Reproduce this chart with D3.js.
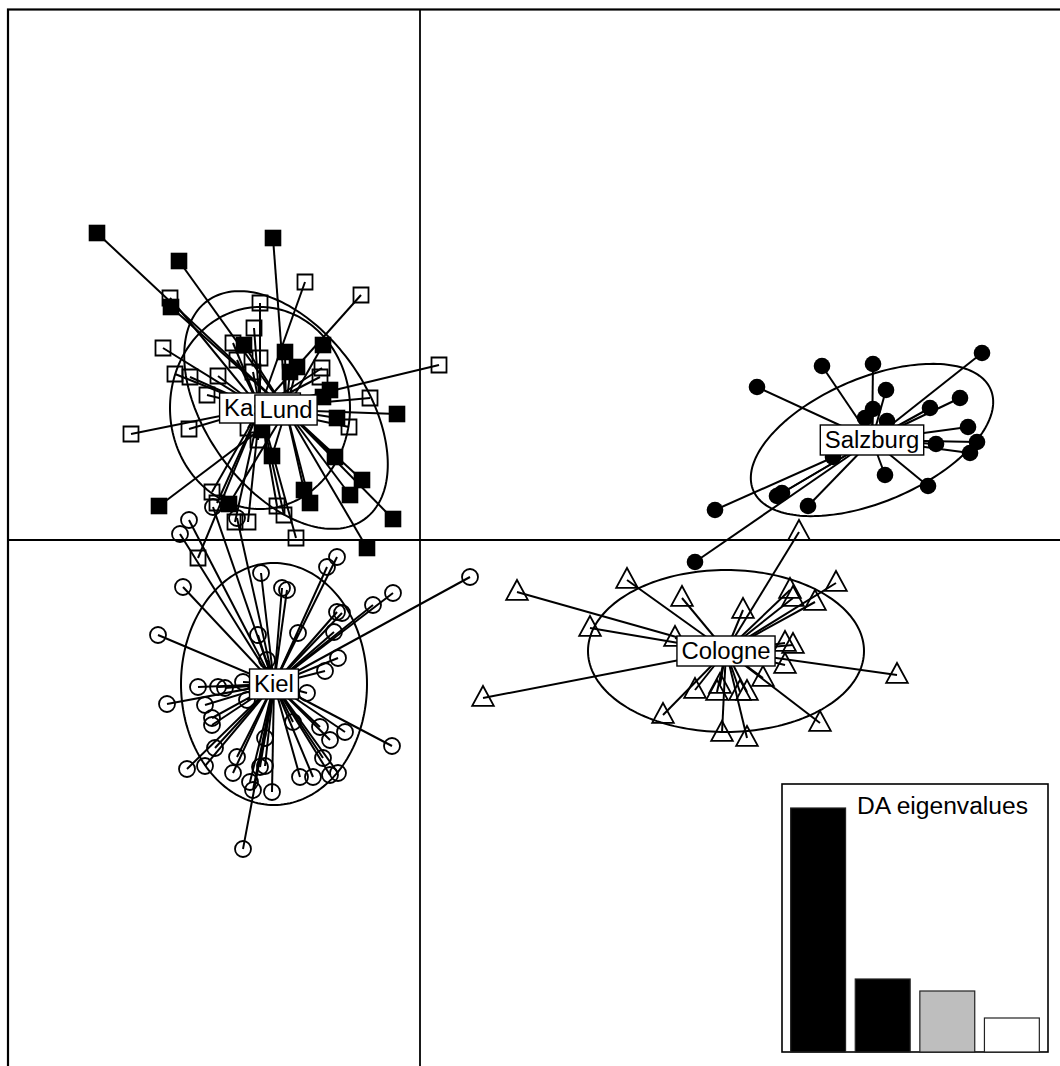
<!DOCTYPE html>
<html><head><meta charset="utf-8">
<script src="https://cdn.jsdelivr.net/npm/d3@7"></script>
<style>body{margin:0;background:#fff} svg{display:block}</style>
</head><body>
<svg id="c" width="1060" height="1066"></svg>
<script>
// ---- data (discriminant function scores, LD1 / LD2) ----
const groups = ["Kassel", "Lund", "Kiel", "Cologne", "Salzburg"];
const shapes = ["openSquare", "filledSquare", "openCircle", "openTriangle", "filledCircle"];

const kasselPts = [[-1.15,2.58],[-0.59,2.45],[-2.50,2.42],[-1.60,2.37],[-1.66,2.12],[-2.57,1.92],[-1.87,1.97],
  [-1.60,1.82],[-1.83,1.80],[-2.45,1.66],[-2.30,1.63],[-2.02,1.64],[-1.67,1.68],[-0.98,1.72],[-1.00,1.63],
  [-2.13,1.45],[-0.50,1.42],[0.19,1.75],[-2.89,1.06],[-2.31,1.11],[-0.71,1.13],[-1.72,1.12],[-1.62,1.00],
  [-2.08,0.48],[-2.03,0.37],[-1.85,0.18],[-1.72,0.18],[-1.43,0.34],[-1.36,0.25],[-1.24,0.02],[-2.22,-0.18]];
const lundPts = [[-3.23,3.07],[-1.47,3.02],[-2.41,2.79],[-2.49,2.33],[-1.76,1.95],[-1.35,1.88],[-0.97,1.95],
  [-1.23,1.73],[-1.30,1.68],[-0.90,1.50],[-0.97,1.43],[-0.23,1.26],[-0.83,1.22],[-1.58,1.10],[-1.48,0.84],
  [-0.85,0.83],[-0.58,0.60],[-1.16,0.50],[-1.10,0.37],[-0.70,0.45],[-2.61,0.34],[-1.91,0.36],[-0.27,0.21],[-0.53,-0.08]];
const kielPts = [[-2.31,0.20],[-2.40,0.06],[-2.07,0.33],[-1.83,0.22],[-0.83,-0.17],[-0.93,-0.27],[-1.59,-0.33],
  [-2.37,-0.47],[-1.38,-0.48],[-1.33,-0.50],[-0.27,-0.53],[-0.47,-0.65],[-0.83,-0.72],[-0.78,-0.73],[-1.22,-0.93],
  [-1.62,-0.95],[-0.86,-0.92],[-2.62,-0.95],[-0.82,-1.18],[-1.53,-1.20],[-0.95,-1.31],[-2.22,-1.47],[-2.02,-1.47],
  [-1.95,-1.48],[-1.77,-1.42],[-1.13,-1.53],[-2.53,-1.64],[-2.15,-1.65],[-2.08,-1.78],[-2.08,-1.85],[-1.73,-1.60],
  [-1.27,-1.82],[-1.00,-1.87],[-0.75,-1.92],[-0.90,-2.00],[-0.28,-2.06],[-2.05,-2.08],[-1.55,-1.98],[-1.83,-2.17],
  [-2.33,-2.29],[-2.15,-2.26],[-0.97,-2.18],[-1.60,-2.27],[-1.55,-2.26],[-1.87,-2.33],[-1.20,-2.37],[-1.07,-2.37],
  [-0.90,-2.35],[-0.82,-2.33],[-1.70,-2.42],[-1.67,-2.50],[-1.48,-2.52],[-1.77,-3.09],[0.50,-0.37]];
const colognePts = [[3.79,0.08],[2.07,-0.40],[0.97,-0.52],[2.62,-0.58],[4.16,-0.43],[3.70,-0.50],[3.73,-0.58],
  [3.95,-0.62],[3.23,-0.70],[1.70,-0.88],[2.55,-0.98],[3.65,-1.03],[3.73,-1.05],[3.65,-1.25],[4.77,-1.35],
  [3.43,-1.38],[0.63,-1.58],[2.75,-1.50],[2.97,-1.52],[3.00,-1.45],[3.20,-1.52],[3.27,-1.52],[2.43,-1.75],
  [4.00,-1.83],[3.02,-1.93],[3.27,-1.98]];
const salzburgPts = [[5.62,1.87],[4.02,1.74],[4.53,1.76],[3.37,1.53],[4.66,1.50],[5.40,1.42],[5.10,1.32],
  [4.53,1.31],[4.45,1.22],[4.67,1.19],[5.48,1.13],[5.57,0.98],[5.16,0.96],[5.50,0.87],[4.13,0.83],[4.65,0.65],
  [5.08,0.54],[3.62,0.47],[3.57,0.44],[3.88,0.34],[2.95,0.30],[2.75,-0.22]];

const centerX = [-1.60, -1.34, -1.46, 3.06, 4.52];
const centerY = [1.32, 1.30, -1.44, -1.11, 1.00];
const ellipseA = [0.90, 1.345, 0.93, 1.38, 1.29];
const ellipseB = [1.01, 0.80, 1.21, 0.81, 0.62];
const ellipseAngle = [0, -54.4, 0, 0, 23];

const eigLabels = ["1", "2", "3", "4"];
const eigValues = [976, 292, 244, 136];
const eigFill = ["#000000", "#000000", "#BEBEBE", "#FFFFFF"];

// ---- drawing ----
const svg = d3.select("#c");
const x = d3.scaleLinear().domain([-4.12, 6.8]).range([8, 1100]);
const y = d3.scaleLinear().domain([5.305, -5.6]).range([9.5, 1100]);
const allPts = [kasselPts, lundPts, kielPts, colognePts, salzburgPts];

// frame
svg.append("rect").attr("x", x(-4.12)).attr("y", y(5.305)).attr("width", 1200).attr("height", 1200)
  .attr("fill", "none").attr("stroke", "#000").attr("stroke-width", 2.2);
// axes through origin
svg.append("line").attr("x1", x(0)).attr("x2", x(0)).attr("y1", y(5.305)).attr("y2", 1100)
  .attr("stroke", "#000").attr("stroke-width", 1.8);
svg.append("line").attr("x1", x(-4.12)).attr("x2", 1100).attr("y1", y(0)).attr("y2", y(0))
  .attr("stroke", "#000").attr("stroke-width", 1.8);

// ellipses
const lineGen = d3.line().curve(d3.curveLinearClosed);
groups.forEach((g, i) => {
  const th = ellipseAngle[i] * Math.PI / 180;
  const pts = d3.range(0, 2 * Math.PI, Math.PI / 90).map(t => {
    const dx = ellipseA[i] * Math.cos(t), dy = ellipseB[i] * Math.sin(t);
    return [x(centerX[i] + dx * Math.cos(th) - dy * Math.sin(th)),
            y(centerY[i] + dx * Math.sin(th) + dy * Math.cos(th))];
  });
  svg.append("path").attr("d", lineGen(pts)).attr("fill", "none")
    .attr("stroke", "#000").attr("stroke-width", 2);
});

// stars
groups.forEach((g, i) => {
  svg.append("g").selectAll("line").data(allPts[i]).join("line")
    .attr("x1", d => x(d[0])).attr("y1", d => y(d[1]))
    .attr("x2", x(centerX[i])).attr("y2", y(centerY[i]))
    .attr("stroke", "#000").attr("stroke-width", 2);
});

// points
groups.forEach((g, i) => {
  const sel = svg.append("g").selectAll("path").data(allPts[i]).join("path")
    .attr("transform", d => `translate(${x(d[0])},${y(d[1])})`);
  const s = shapes[i];
  if (s === "openSquare") sel.attr("d", "M-7.5,-7.5H7.5V7.5H-7.5Z").attr("fill", "none").attr("stroke", "#000").attr("stroke-width", 1.8);
  if (s === "filledSquare") sel.attr("d", "M-8.3,-8.3H8.3V8.3H-8.3Z").attr("fill", "#000");
  if (s === "openCircle") sel.attr("d", d3.symbol(d3.symbolCircle, Math.PI * 8 * 8)()).attr("fill", "none").attr("stroke", "#000").attr("stroke-width", 1.8);
  if (s === "openTriangle") sel.attr("d", "M0,-12L10.8,7.8L-10.8,7.8Z").attr("fill", "none").attr("stroke", "#000").attr("stroke-width", 1.8);
  if (s === "filledCircle") sel.attr("d", d3.symbol(d3.symbolCircle, Math.PI * 8.3 * 8.3)()).attr("fill", "#000");
});

// labels
const font = "'Liberation Sans', Arial, Helvetica, sans-serif";
groups.forEach((g, i) => {
  const gg = svg.append("g");
  const rect = gg.append("rect");
  const t = gg.append("text").attr("x", x(centerX[i])).attr("y", y(centerY[i]))
    .attr("dy", "0.36em").attr("text-anchor", "middle")
    .attr("font-family", font).attr("font-size", 23).text(g);
  const w = t.node().getComputedTextLength() * 1.04;
  t.attr("textLength", w).attr("lengthAdjust", "spacingAndGlyphs");
  rect.attr("x", x(centerX[i]) - w / 2 - 4.5).attr("y", y(centerY[i]) - 15)
    .attr("width", w + 9).attr("height", 30)
    .attr("fill", "#fff").attr("stroke", "#000").attr("stroke-width", 1.4);
});

// eigenvalue inset
const inset = svg.append("g");
inset.append("rect").attr("x", 782).attr("y", 784).attr("width", 266).attr("height", 268)
  .attr("fill", "#fff").attr("stroke", "#000").attr("stroke-width", 1.6);
const bx = d3.scaleBand().domain(eigLabels).range([785.5, 1044.5]).paddingInner(0.15).paddingOuter(0.08);
const by = d3.scaleLinear().domain([0, d3.max(eigValues)]).range([1052, 808]);
inset.selectAll("rect.bar").data(eigValues).join("rect").attr("class", "bar")
  .attr("x", (d, i) => bx(eigLabels[i])).attr("width", bx.bandwidth())
  .attr("y", d => by(d)).attr("height", d => by(0) - by(d))
  .attr("fill", (d, i) => eigFill[i]).attr("stroke", "#222").attr("stroke-width", 1.2);
const tt = inset.append("text").attr("x", 857).attr("y", 814)
  .attr("font-family", font).attr("font-size", 23).text("DA eigenvalues");
tt.attr("textLength", 171).attr("lengthAdjust", "spacingAndGlyphs");
</script>
</body></html>
